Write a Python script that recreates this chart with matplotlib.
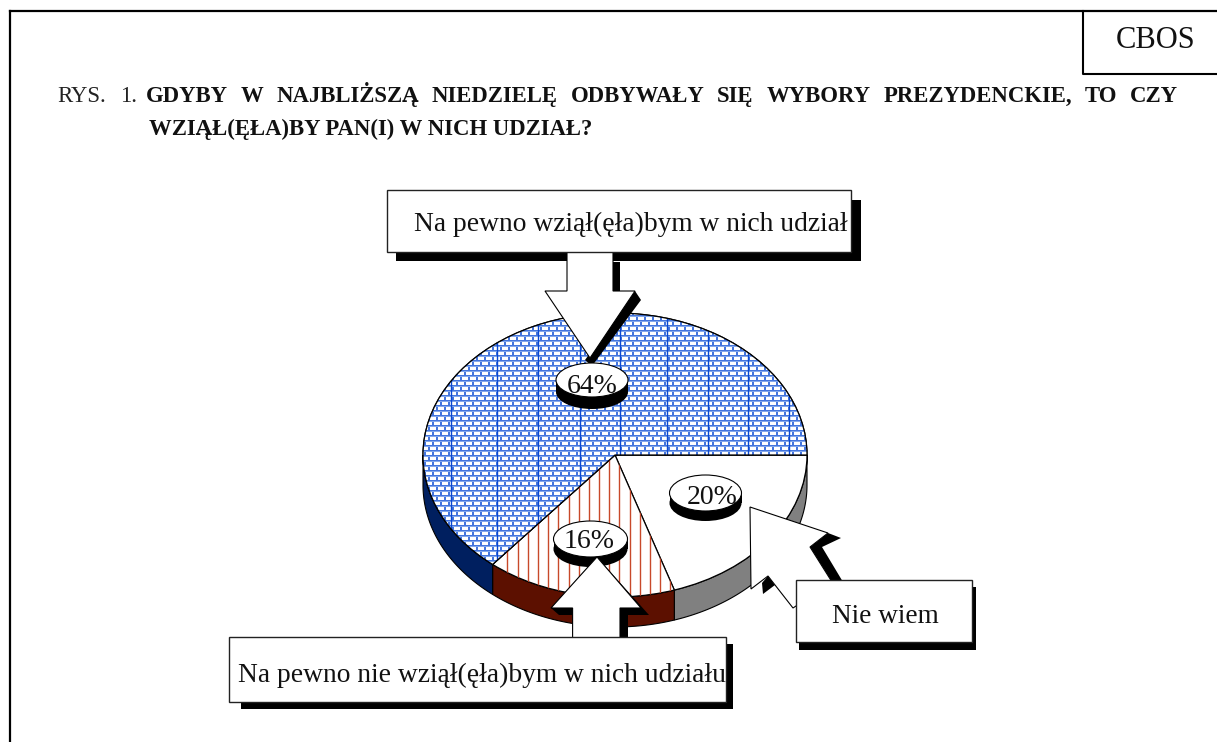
import numpy as np
import matplotlib
matplotlib.use("Agg")
import matplotlib.pyplot as plt
from matplotlib.patches import Polygon, Rectangle, Ellipse, Wedge
from matplotlib.transforms import Affine2D

plt.rcParams['font.family'] = ['Liberation Serif', 'DejaVu Serif']

# data
categories = ["Nie wiem", "Na pewno nie wziął(ęła)bym w nich udziału", "Na pewno wziął(ęła)bym w nich udział"]
values = [20, 16, 64]
value_labels = ["20%", "16%", "64%"]
top_colors = ["white", "white", "white"]
side_colors = ["#808080", "#5c1000", "#001f5f"]
title_prefix = ["RYS.", "1."]
title_line1 = "GDYBY W NAJBLIŻSZĄ NIEDZIELĘ ODBYWAŁY SIĘ WYBORY PREZYDENCKIE, TO CZY"
title_line2 = "WZIĄŁ(ĘŁA)BY PAN(I) W NICH UDZIAŁ?"
source = "CBOS"

W, H = 1217, 742
fig = plt.figure(figsize=(W/100, H/100), dpi=100)
ax = fig.add_axes([0, 0, 1, 1])

CX, CY, RX, RY, DEPTH = 615, 455, 192, 142, 30
pie_tf = Affine2D().scale(RX, RY).translate(CX, CY)

wedges, _ = ax.pie(values, colors=top_colors, startangle=0, counterclock=True, radius=1,
                   wedgeprops=dict(edgecolor='black', linewidth=0.9, zorder=3))
ax.set_aspect('auto')
ax.set_xlim(0, W)
ax.set_ylim(H, 0)
ax.axis('off')
for w in wedges:
    w.set_transform(pie_tf + ax.transData)
    w.set_zorder(3)

# side walls, from cumulative shares
edges = np.concatenate([[0], np.cumsum(values)]) / np.sum(values) * 360
for i in range(len(values)):
    a, b = edges[i], min(edges[i+1], 180)
    if a >= 180:
        continue
    t = np.radians(np.linspace(a, b, 80))
    x = CX + RX*np.cos(t)
    y = CY + RY*np.sin(t)
    pts = np.r_[np.c_[x, y], np.c_[x, y+DEPTH][::-1]]
    ax.add_patch(Polygon(pts, closed=True, fc=side_colors[i], ec='black', lw=0.8, zorder=2))

# brick texture of the large slice
blue = np.array([0.27, 0.46, 0.87])
mid = np.array([0.52, 0.66, 0.92])
tile = np.ones((10, 8, 3))
tile[0, :, :] = blue
tile[1, :, :] = mid
tile[2:5, 0:2, :] = blue
tile[5, :, :] = blue
tile[6, :, :] = mid
tile[7:10, 4:6, :] = blue
tex = np.tile(tile, (H//10 + 1, W//8 + 1, 1))
im = ax.imshow(tex, extent=(0, tex.shape[1], tex.shape[0], 0), interpolation='nearest',
               zorder=3.1, aspect='auto')
ax.set_xlim(0, W); ax.set_ylim(H, 0)
im.set_clip_path(wedges[2])
for xv in [450.6, 497, 538, 579.6, 620, 666.7, 707.5, 748.4, 789]:
    l = ax.plot([xv, xv], [0, H], color='#0a48d2', lw=1.0, zorder=3.2)[0]
    l.set_clip_path(wedges[2])
for xv in np.arange(507.3, 680, 10.2):
    l = ax.plot([xv, xv], [0, H], color='#c8492a', lw=1.0, zorder=3.2)[0]
    l.set_clip_path(wedges[1])
ax.add_patch(Wedge((0, 0), 1, edges[2], 360, fc='none', ec='black', lw=0.9, zorder=3.3,
                   transform=pie_tf + ax.transData))

def poly(pts, fc='white', ec='black', lw=0.8, z=6):
    ax.add_patch(Polygon(pts, closed=True, fc=fc, ec=ec, lw=lw, zorder=z))

def shadow_box(x0, y0, x1, y1, dx0, dx1, dy0, dy1, z=9):
    ax.add_patch(Rectangle((x0+dx0, y0+dy0), x1-x0-dx0+dx1, y1-y0-dy0+dy1, fc='black', ec='none', zorder=5.5))
    ax.add_patch(Rectangle((x0, y0), x1-x0, y1-y0, fc='white', ec='#222222', lw=1.0, zorder=z+0.1))

def bubble(cx, cy, rx, ry, d, label, tx, ty, z=7):
    ax.add_patch(Ellipse((cx, cy+d), 2*rx, 2*ry, fc='black', ec='none', zorder=z))
    ax.add_patch(Rectangle((cx-rx, cy), 2*rx, d, fc='black', ec='none', zorder=z))
    ax.add_patch(Ellipse((cx, cy), 2*rx, 2*ry, fc='white', ec='black', lw=0.8, zorder=z+0.1))
    ax.text(tx, ty, label, fontsize=20, ha='center', va='baseline', zorder=z+0.2, color='#111111')

# top arrow and shadow
poly([(613, 262), (620, 262), (620, 291), (613, 291)], fc='black', ec='none', z=5.9)
poly([(635, 291), (641, 300), (592, 366), (585, 360)], fc='black', ec='none', z=5.9)
poly([(567, 250), (613, 250), (613, 291), (635, 291), (590, 358), (545, 291), (567, 291)])
# bottom arrow
poly([(597, 557), (649, 615), (628, 615), (628, 640), (572.6, 640), (572.6, 615), (559, 615), (551, 608)], fc='black', ec='none', z=7.5)
poly([(597, 557), (641, 608), (620, 608), (620, 640), (572.6, 640), (572.6, 608), (551, 608)], z=7.6)
# right arrow
poly([(828, 533), (841, 538), (822, 547), (843, 582), (832, 582), (810, 547)], fc='black', ec='none', z=5.9)
poly([(768, 576), (775, 585), (763, 594), (762, 583)], fc='black', ec='none', z=5.9)
poly([(750, 507), (828, 533), (810, 547), (832, 582), (793, 608), (768, 576), (751, 589)])

bubble(592, 380, 36, 17, 12, value_labels[2], 592, 393)
bubble(590.5, 539, 37, 18, 10, value_labels[1], 589.5, 548, z=7)
bubble(705.5, 493, 36, 18, 10, value_labels[0], 712, 504)

# callout boxes
shadow_box(387, 190, 851, 252, 9, 10, 10, 9)
ax.text(414, 231, categories[2], fontsize=19.8, va='baseline', zorder=10, color='#111111')
shadow_box(228.5, 637, 726, 702, 12, 7, 7, 7)
ax.text(238, 682, categories[1], fontsize=19.8, va='baseline', zorder=10, color='#111111')
shadow_box(795.5, 580, 972, 642, 3, 4, 7, 8)
ax.text(832.5, 623, categories[0], fontsize=19.6, va='baseline', zorder=10, color='#111111')

# frame
ax.plot([9.5, 9.5], [H, 11], color='black', lw=1.6, zorder=12, solid_capstyle='projecting')
ax.plot([9.5, W], [11, 11], color='black', lw=1.6, zorder=12)
ax.plot([1083, 1083, W], [11, 74, 74], color='black', lw=1.5, zorder=12)
ax.text(1155.5, 40, source, fontsize=22, ha='center', va='center', zorder=12, color='#111111')

# title
fig.canvas.draw()
r = fig.canvas.get_renderer()
for xp, s in zip((57, 120), title_prefix):
    ax.text(xp, 102, s, fontsize=16.4, va='baseline', zorder=12, color='#222222')
words = title_line1.split()
texts = [ax.text(0, 102, w, fontsize=16.4, fontweight='bold', va='baseline', zorder=12, color='#111111') for w in words]
widths = [t.get_window_extent(r).width for t in texts]
x0, x1 = 146, 1178
gap = (x1 - x0 - sum(widths)) / (len(words) - 1)
x = x0
for t, wd in zip(texts, widths):
    t.set_x(x)
    x += wd + gap
ax.text(149, 135, title_line2, fontsize=16.4, fontweight='bold', va='baseline', zorder=12, color='#111111')

fig.savefig("out.png", dpi=100)
